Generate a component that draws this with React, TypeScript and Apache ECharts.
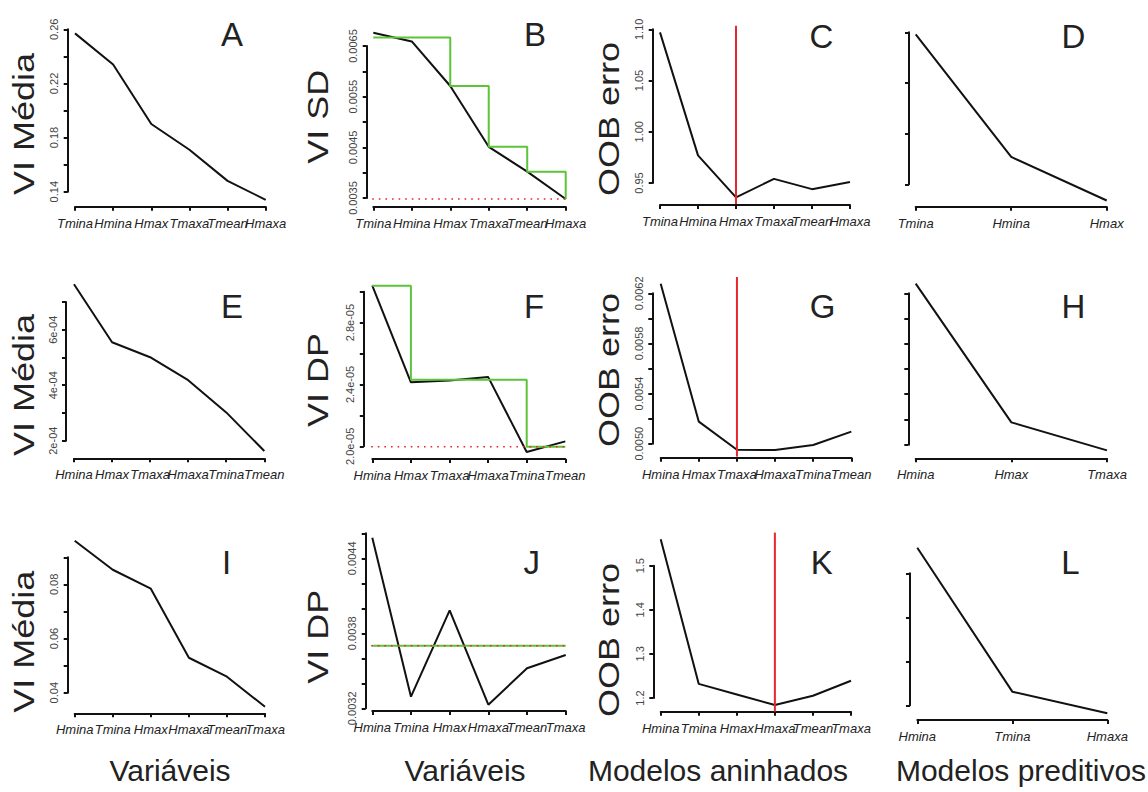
import React, { useEffect, useRef } from "react";
import * as echarts from "echarts";

// ---------------- DATA ----------------
// Row 1 (A-D)
const catsA = ["Tmina", "Hmina", "Hmax", "Tmaxa", "Tmean", "Hmaxa"];
const viMeanA = [0.257, 0.234, 0.19, 0.171, 0.148, 0.134];
const yTicksA = [0.14, 0.16, 0.18, 0.2, 0.22, 0.24, 0.26];
const yLabelsA = ["0.14", null, "0.18", null, "0.22", null, "0.26"];

const catsB = ["Tmina", "Hmina", "Hmax", "Tmaxa", "Tmean", "Hmaxa"];
const viSdB = [0.00676, 0.00659, 0.00571, 0.00451, 0.00402, 0.00348];
const cartB = [0.00667, 0.00667, 0.00571, 0.00451, 0.00402, 0.00348];
const thresholdB = 0.00348;
const yTicksB = [0.0035, 0.004, 0.0045, 0.005, 0.0055, 0.006, 0.0065];
const yLabelsB = ["0.0035", null, "0.0045", null, "0.0055", null, "0.0065"];

const catsC = ["Tmina", "Hmina", "Hmax", "Tmaxa", "Tmean", "Hmaxa"];
const oobC = [1.097, 0.977, 0.936, 0.954, 0.944, 0.951];
const selectedC = "Hmax";
const yTicksC = [0.95, 1.0, 1.05, 1.1];
const yLabelsC = ["0.95", "1.00", "1.05", "1.10"];

const catsD = ["Tmina", "Hmina", "Hmax"];
const oobD = [1.098, 0.977, 0.934];
const yTicksD = [0.95, 1.0, 1.05, 1.1];
const yLabelsD = [null, null, null, null];

// Row 2 (E-H)
const catsE = ["Hmina", "Hmax", "Tmaxa", "Hmaxa", "Tmina", "Tmean"];
const viMeanE = [7.64e-4, 5.55e-4, 5.01e-4, 4.18e-4, 3.02e-4, 1.63e-4];
const yTicksE = [2e-4, 3e-4, 4e-4, 5e-4, 6e-4, 7e-4];
const yLabelsE = ["2e-04", null, "4e-04", null, "6e-04", null];

const catsF = ["Hmina", "Hmax", "Tmaxa", "Hmaxa", "Tmina", "Tmean"];
const viSdF = [3.039e-5, 2.414e-5, 2.425e-5, 2.449e-5, 1.963e-5, 2.032e-5];
const cartF = [3.039e-5, 2.43e-5, 2.43e-5, 2.43e-5, 1.997e-5, 1.997e-5];
const thresholdF = 1.997e-5;
const yTicksF = [2.0e-5, 2.2e-5, 2.4e-5, 2.6e-5, 2.8e-5, 3.0e-5];
const yLabelsF = ["2.0e-05", null, "2.4e-05", null, "2.8e-05", null];

const catsG = ["Hmina", "Hmax", "Tmaxa", "Hmaxa", "Tmina", "Tmean"];
const oobG = [0.006277, 0.005176, 0.004952, 0.00495, 0.00499, 0.005096];
const selectedG = "Tmaxa";
const yTicksG = [0.005, 0.0052, 0.0054, 0.0056, 0.0058, 0.006, 0.0062];
const yLabelsG = ["0.0050", null, "0.0054", null, "0.0058", null, "0.0062"];

const catsH = ["Hmina", "Hmax", "Tmaxa"];
const oobH = [0.006277, 0.005177, 0.004955];
const yTicksH = [0.005, 0.0052, 0.0054, 0.0056, 0.0058, 0.006, 0.0062];
const yLabelsH = [null, null, null, null, null, null, null];

// Row 3 (I-L)
const catsI = ["Hmina", "Tmina", "Hmax", "Hmaxa", "Tmean", "Tmaxa"];
const viMeanI = [0.0961, 0.0854, 0.0784, 0.0529, 0.0459, 0.0348];
const yTicksI = [0.04, 0.05, 0.06, 0.07, 0.08, 0.09];
const yLabelsI = ["0.04", null, "0.06", null, "0.08", null];

const catsJ = ["Hmina", "Tmina", "Hmax", "Hmaxa", "Tmean", "Tmaxa"];
const viSdJ = [0.004565, 0.003293, 0.003984, 0.003229, 0.00352, 0.003626];
const cartJ = [0.003701, 0.003701, 0.003701, 0.003701, 0.003701, 0.003701];
const thresholdJ = 0.003701;
const yTicksJ = [0.0032, 0.0034, 0.0036, 0.0038, 0.004, 0.0042, 0.0044, 0.0046];
const yLabelsJ = ["0.0032", null, null, "0.0038", null, null, "0.0044", null];

const catsK = ["Hmina", "Tmina", "Hmax", "Hmaxa", "Tmean", "Tmaxa"];
const oobK = [1.56, 1.232, 1.208, 1.184, 1.205, 1.239];
const selectedK = "Hmaxa";
const yTicksK = [1.2, 1.3, 1.4, 1.5];
const yLabelsK = ["1.2", "1.3", "1.4", "1.5"];

const catsL = ["Hmina", "Tmina", "Hmaxa"];
const oobL = [1.558, 1.231, 1.182];
const yTicksL = [1.2, 1.3, 1.4, 1.5];
const yLabelsL = [null, null, null, null];

// ---------------- PANELS ----------------
type Panel = {
  id: string;
  cats: string[];
  values: number[];
  yTicks: number[];
  yLabels: (string | null)[];
  cart?: number[];
  threshold?: number;
  selected?: string;
};

const panels: Panel[] = [
  { id: "A", cats: catsA, values: viMeanA, yTicks: yTicksA, yLabels: yLabelsA },
  { id: "B", cats: catsB, values: viSdB, yTicks: yTicksB, yLabels: yLabelsB, cart: cartB, threshold: thresholdB },
  { id: "C", cats: catsC, values: oobC, yTicks: yTicksC, yLabels: yLabelsC, selected: selectedC },
  { id: "D", cats: catsD, values: oobD, yTicks: yTicksD, yLabels: yLabelsD },
  { id: "E", cats: catsE, values: viMeanE, yTicks: yTicksE, yLabels: yLabelsE },
  { id: "F", cats: catsF, values: viSdF, yTicks: yTicksF, yLabels: yLabelsF, cart: cartF, threshold: thresholdF },
  { id: "G", cats: catsG, values: oobG, yTicks: yTicksG, yLabels: yLabelsG, selected: selectedG },
  { id: "H", cats: catsH, values: oobH, yTicks: yTicksH, yLabels: yLabelsH },
  { id: "I", cats: catsI, values: viMeanI, yTicks: yTicksI, yLabels: yLabelsI },
  { id: "J", cats: catsJ, values: viSdJ, yTicks: yTicksJ, yLabels: yLabelsJ, cart: cartJ, threshold: thresholdJ },
  { id: "K", cats: catsK, values: oobK, yTicks: yTicksK, yLabels: yLabelsK, selected: selectedK },
  { id: "L", cats: catsL, values: oobL, yTicks: yTicksL, yLabels: yLabelsL },
];

// ---------------- LAYOUT ----------------
// grid = tick-range box; axis offsets push the axes out to the plot-region edge (R style)
const layout: Record<string, { left: number; top: number; width: number; height: number; yOff: number; xOff: number }> = {
  A: { left: 75, top: 29.3, width: 190.7, height: 162.4, yOff: 7.3, xOff: 15 },
  B: { left: 373.3, top: 46, width: 192.4, height: 152, yOff: 6.6, xOff: 8.7 },
  C: { left: 660, top: 29.3, width: 190, height: 153.7, yOff: 7.3, xOff: 22 },
  D: { left: 915.7, top: 32.3, width: 191, height: 152, yOff: 6.7, xOff: 22.4 },
  E: { left: 74, top: 302, width: 190.3, height: 138.7, yOff: 8, xOff: 17.6 },
  F: { left: 372.3, top: 291.7, width: 193, height: 154.6, yOff: 8.5, xOff: 12.7 },
  G: { left: 660.7, top: 293.3, width: 190.6, height: 150.4, yOff: 8.4, xOff: 14 },
  H: { left: 915.7, top: 293.3, width: 191.3, height: 151.4, yOff: 7.4, xOff: 13.6 },
  I: { left: 74.7, top: 557.3, width: 190.3, height: 135.4, yOff: 7, xOff: 20.6 },
  J: { left: 372.3, top: 533.3, width: 193.4, height: 175, yOff: 6.6, xOff: 2.7 },
  K: { left: 660.7, top: 565.7, width: 190.3, height: 132.3, yOff: 7.4, xOff: 13.7 },
  L: { left: 917.3, top: 573.3, width: 190, height: 132, yOff: 7.3, xOff: 14.7 },
};

const letterPos: Record<string, [number, number]> = {
  A: [232, 34], B: [535, 34], C: [821.5, 36], D: [1073.5, 36],
  E: [232, 306.7], F: [534, 306.7], G: [822.5, 306.7], H: [1073.3, 306.7],
  I: [226.7, 562], J: [531.7, 562.5], K: [821.7, 562], L: [1070.5, 562],
};

const yTitles: { text: string; x: number; y: number }[] = [
  { text: "VI Média", x: 24, y: 124 },
  { text: "VI SD", x: 317.5, y: 116.7 },
  { text: "OOB erro", x: 609, y: 119 },
  { text: "VI Média", x: 24, y: 385 },
  { text: "VI DP", x: 317.5, y: 380 },
  { text: "OOB erro", x: 609, y: 370 },
  { text: "VI Média", x: 24, y: 641.7 },
  { text: "VI DP", x: 317.5, y: 636.7 },
  { text: "OOB erro", x: 609, y: 640 },
];

const xTitles: { text: string; x: number; y: number }[] = [
  { text: "Variáveis", x: 170, y: 770 },
  { text: "Variáveis", x: 465, y: 770 },
  { text: "Modelos aninhados", x: 718, y: 770 },
  { text: "Modelos preditivos", x: 1021, y: 770 },
];

const FONT = '"Liberation Sans", Arial, Helvetica, sans-serif';
const INK = "#111";
const GREEN = "#5cc43a";
const RED = "#e8262b";

function extend(lo: number, hi: number): [number, number] {
  const d = (hi - lo) * 0.04;
  return [lo - d, hi + d];
}

export default function App() {
  const ref = useRef<HTMLDivElement>(null);

  useEffect(() => {
    const chart = echarts.init(ref.current as HTMLDivElement, null, { renderer: "svg" });
    const grid: any[] = [];
    const xAxis: any[] = [];
    const yAxis: any[] = [];
    const series: any[] = [];

    panels.forEach((p, i) => {
      const L = layout[p.id];
      const n = p.cats.length;
      const labelVals = p.yTicks.filter((_, k) => p.yLabels[k] !== null);
      grid.push({ left: L.left, top: L.top, width: L.width, height: L.height, containLabel: false });

      // visible category axis (index 2i)
      xAxis.push({
        gridIndex: i,
        type: "category",
        data: p.cats,
        boundaryGap: false,
        position: "bottom",
        offset: L.xOff,
        splitLine: { show: false },
        axisLine: { show: true, onZero: false, lineStyle: { color: INK, width: 2 } },
        axisTick: { show: true, length: 4, interval: 0, lineStyle: { color: INK, width: 2 } },
        axisLabel: {
          show: true,
          interval: 0,
          margin: 10,
          fontSize: 13,
          fontStyle: "italic",
          fontFamily: FONT,
          color: "#222",
        },
      });
      // hidden value axis used by the series (index 2i+1)
      xAxis.push({
        gridIndex: i,
        type: "value",
        min: 1,
        max: n,
        show: false,
        splitLine: { show: false },
      });

      yAxis.push({
        gridIndex: i,
        type: "value",
        min: p.yTicks[0],
        max: p.yTicks[p.yTicks.length - 1],
        position: "left",
        offset: L.yOff,
        splitLine: { show: false },
        axisLine: { show: true, onZero: false, lineStyle: { color: INK, width: 2 } },
        axisTick: { show: true, length: 4, customValues: p.yTicks, lineStyle: { color: INK, width: 2 } },
        axisLabel: {
          show: labelVals.length > 0,
          customValues: labelVals,
          showMinLabel: true,
          showMaxLabel: true,
          rotate: 90,
          margin: 8,
          fontSize: 11,
          fontFamily: FONT,
          color: "#444",
          formatter: (v: number) => {
            const k = p.yTicks.findIndex((t) => Math.abs(t - v) <= Math.abs(t) * 1e-6);
            return k >= 0 ? p.yLabels[k] ?? "" : "";
          },
        },
      });

      const xi = 2 * i + 1;
      series.push({
        type: "line",
        xAxisIndex: xi,
        yAxisIndex: i,
        data: p.values.map((v, k) => [k + 1, v]),
        symbol: "none",
        clip: false,
        silent: true,
        lineStyle: { color: INK, width: 2 },
        z: 3,
      });

      if (p.cart) {
        series.push({
          type: "line",
          xAxisIndex: xi,
          yAxisIndex: i,
          step: "end",
          data: p.cart.map((v, k) => [k + 1, v]),
          symbol: "none",
          clip: false,
          silent: true,
          lineStyle: { color: GREEN, width: 2 },
          z: 4,
        });
      }
      if (p.threshold !== undefined) {
        const [x0, x1] = extend(1, n);
        series.push({
          type: "line",
          xAxisIndex: xi,
          yAxisIndex: i,
          data: [
            [x0, p.threshold],
            [x1, p.threshold],
          ],
          symbol: "none",
          clip: false,
          silent: true,
          lineStyle: { color: RED, width: 1.6, type: [1.6, 5] },
          z: 5,
        });
      }
      if (p.selected) {
        const sx = p.cats.indexOf(p.selected) + 1;
        const [y0, y1] = extend(Math.min(...p.values), Math.max(...p.values));
        series.push({
          type: "line",
          xAxisIndex: xi,
          yAxisIndex: i,
          data: [
            [sx, y0],
            [sx, y1],
          ],
          symbol: "none",
          clip: false,
          silent: true,
          lineStyle: { color: RED, width: 2 },
          z: 5,
        });
      }
    });

    const graphic: any[] = [];
    panels.forEach((p) => {
      const [x, y] = letterPos[p.id];
      graphic.push({
        type: "text",
        x,
        y,
        silent: true,
        style: { text: p.id, fontSize: 33, fontFamily: FONT, fill: "#222", align: "center", verticalAlign: "middle" },
      });
    });
    yTitles.forEach((t) => {
      graphic.push({
        type: "text",
        x: t.x,
        y: t.y,
        rotation: Math.PI / 2,
        scaleX: 1.2,
        silent: true,
        style: { text: t.text, fontSize: 30, fontFamily: FONT, fill: "#222", align: "center", verticalAlign: "middle" },
      });
    });
    xTitles.forEach((t) => {
      graphic.push({
        type: "text",
        x: t.x,
        y: t.y,
        silent: true,
        style: { text: t.text, fontSize: 30, fontFamily: FONT, fill: "#222", align: "center", verticalAlign: "middle" },
      });
    });

    chart.setOption({
      animation: false,
      backgroundColor: "#ffffff",
      grid,
      xAxis,
      yAxis,
      series,
      graphic,
    });
    return () => chart.dispose();
  }, []);

  return (
    <div
      ref={ref}
      style={{ position: "absolute", left: 0, top: 0, width: 1148, height: 792, background: "#fff" }}
    />
  );
}
